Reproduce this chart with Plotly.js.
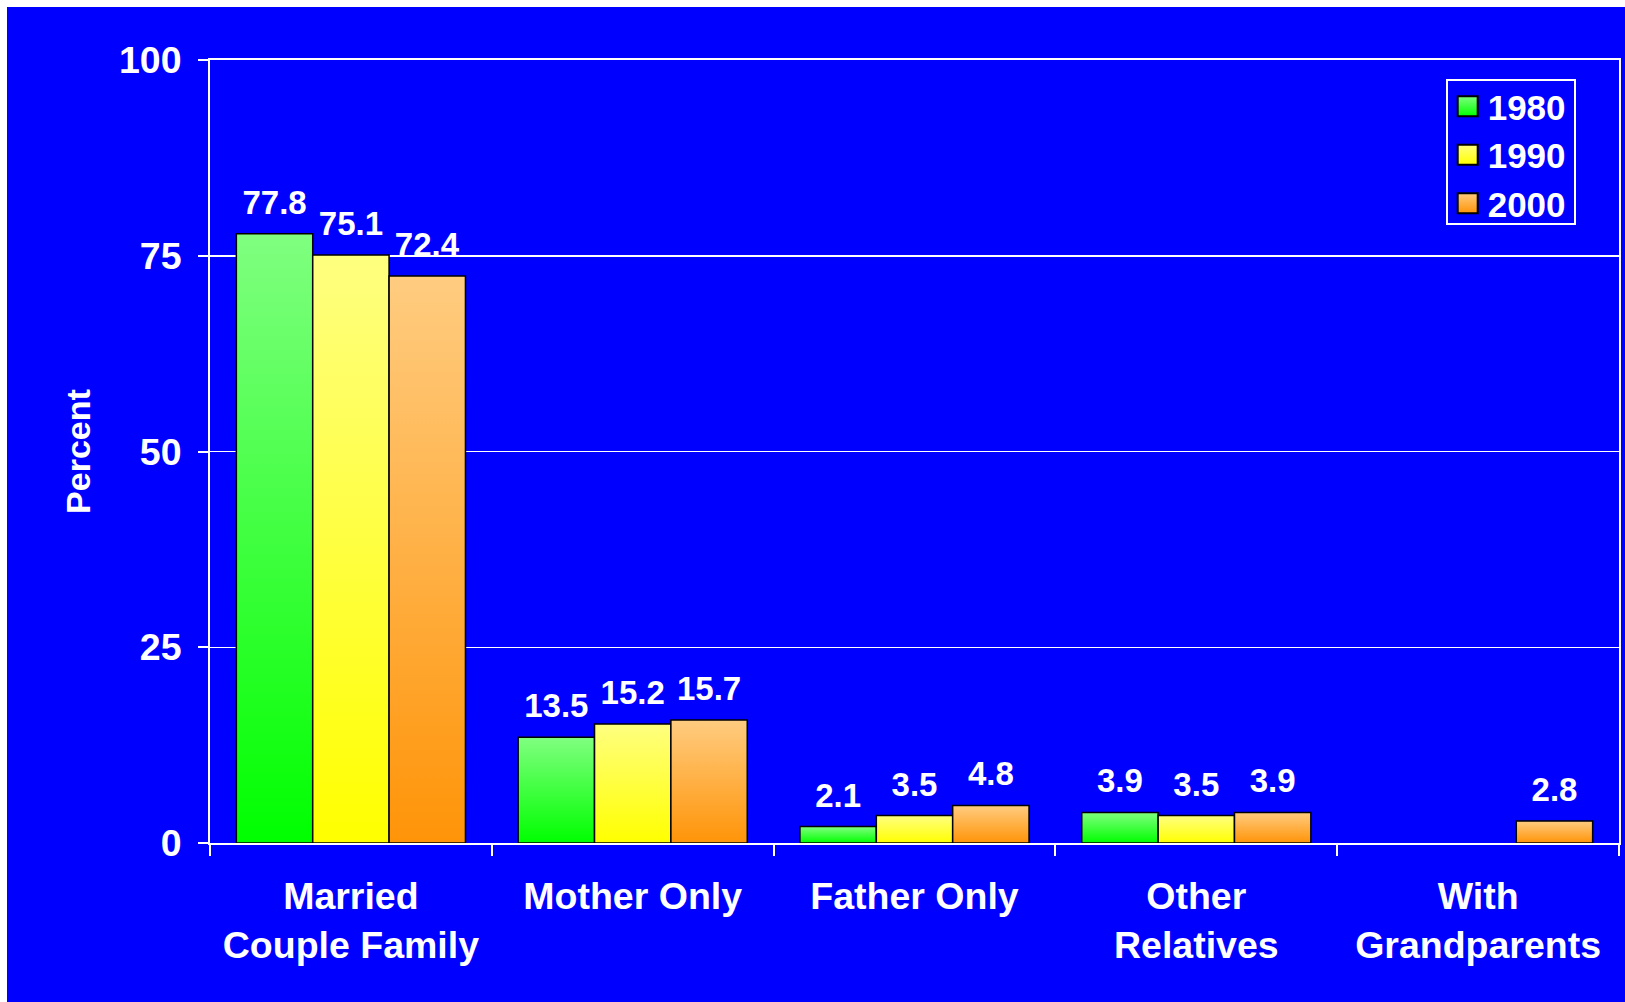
<!DOCTYPE html>
<html><head><meta charset="utf-8">
<script src="https://cdn.plot.ly/plotly-3.0.1.min.js"></script>
<style>
html,body{margin:0;padding:0;background:#ffffff;width:1625px;height:1002px;overflow:hidden;}
#chart{position:absolute;left:7px;top:7px;width:1618px;height:995px;}
</style></head><body><div id="chart"></div>
<script>
const categories = ["Married<br>Couple Family", "Mother Only", "Father Only", "Other<br>Relatives", "With<br>Grandparents"];
const seriesNames = ["1980", "1990", "2000"];
const values1980 = [77.8, 13.5, 2.1, 3.9, null];
const values1990 = [75.1, 15.2, 3.5, 3.5, null];
const values2000 = [72.4, 15.7, 4.8, 3.9, 2.8];
const yTickVals = [0, 25, 50, 75, 100];
const yTickText = ["0", "25", "50", "75", "100"];

const FONT = "Liberation Sans, Arial, Helvetica, sans-serif";
const topColors = ["#80FF80", "#FFFF80", "#FFCC80"];
const bottomColors = ["#00FF00", "#FFFF00", "#FF9408"];
const seriesValues = [values1980, values1990, values2000];

const traces = seriesValues.map((vals, i) => ({
  type: "bar",
  name: seriesNames[i],
  x: categories,
  y: vals,
  text: vals.map(v => v == null ? "" : v.toFixed(1)),
  texttemplate: "%{text}",
  textposition: "outside",
  constraintext: "none",
  cliponaxis: false,
  textfont: {family: FONT, size: 33, color: "#ffffff", weight: "bold"},
  marker: {color: bottomColors[i], line: {color: "#000000", width: 1.5}},
  hoverinfo: "x+y+name"
}));

const layout = {
  width: 1618, height: 995,
  paper_bgcolor: "#0000FF",
  plot_bgcolor: "#0000FF",
  margin: {l: 203, r: 6, t: 53, b: 159},
  barmode: "group",
  bargap: 0.187,
  bargroupgap: 0,
  font: {family: FONT, color: "#ffffff", weight: "bold"},
  showlegend: true,
  legend: {
    x: 0.877, y: 0.981, xanchor: "left", yanchor: "top",
    bgcolor: "#0000FF", bordercolor: "#ffffff", borderwidth: 2,
    font: {family: FONT, size: 35, color: "#ffffff", weight: "bold"},
    traceorder: "normal"
  },
  xaxis: {
    type: "category",
    showline: true, mirror: true, linecolor: "#ffffff", linewidth: 2,
    ticks: "outside", tickson: "boundaries", ticklen: 11, tickwidth: 2, tickcolor: "#ffffff",
    ticklabelstandoff: 19,
    showgrid: false, zeroline: false,
    tickfont: {family: FONT, size: 37.5, color: "#ffffff", weight: "bold"},
    automargin: false
  },
  yaxis: {
    range: [0, 100],
    tickmode: "array", tickvals: yTickVals, ticktext: yTickText,
    showline: true, mirror: true, linecolor: "#ffffff", linewidth: 2,
    ticks: "outside", ticklen: 10, tickwidth: 2, tickcolor: "#ffffff",
    ticklabelstandoff: 9,
    showgrid: true, gridcolor: "#ffffff", gridwidth: 1.5,
    zeroline: false,
    tickfont: {family: FONT, size: 37.5, color: "#ffffff", weight: "bold"},
    title: {text: "Percent", standoff: 18, font: {family: FONT, size: 34, color: "#ffffff", weight: "bold"}},
    automargin: false
  }
};

Plotly.newPlot("chart", traces, layout, {staticPlot: true, displayModeBar: false}).then(gd => {
  const svg = gd.querySelector("svg.main-svg");
  const ns = "http://www.w3.org/2000/svg";
  let defs = svg.querySelector("defs");
  if (!defs) { defs = document.createElementNS(ns, "defs"); svg.insertBefore(defs, svg.firstChild); }
  topColors.forEach((c, i) => {
    const lg = document.createElementNS(ns, "linearGradient");
    lg.setAttribute("id", "barGrad" + i);
    lg.setAttribute("x1", "0"); lg.setAttribute("y1", "0");
    lg.setAttribute("x2", "0"); lg.setAttribute("y2", "1");
    const s1 = document.createElementNS(ns, "stop");
    s1.setAttribute("offset", "0"); s1.setAttribute("stop-color", c);
    const s2 = document.createElementNS(ns, "stop");
    s2.setAttribute("offset", "1"); s2.setAttribute("stop-color", bottomColors[i]);
    lg.appendChild(s1); lg.appendChild(s2);
    defs.appendChild(lg);
  });
  const barTraces = gd.querySelectorAll(".barlayer .trace");
  barTraces.forEach((t, i) => {
    t.querySelectorAll(".point path").forEach(p => { p.style.fill = "url(#barGrad" + i + ")"; });
    t.querySelectorAll(".bartext").forEach(tx => {
      const tr = tx.getAttribute("transform") || "";
      tx.setAttribute("transform", "translate(0,-10) " + tr);
    });
  });
  const legTraces = gd.querySelectorAll(".legend .traces");
  legTraces.forEach((t, i) => {
    t.querySelectorAll(".legendpoints path").forEach(p => {
      p.setAttribute("d", "M10,10H-10V-10H10Z");
      p.style.fill = "url(#barGrad" + i + ")";
      p.style.stroke = "#000000";
      p.style.strokeWidth = "2px";
    });
  });
  // tighten legend frame padding to match the reference box
  const bg = gd.querySelector(".legend rect.bg");
  if (bg) {
    const y0 = parseFloat(bg.getAttribute("y") || "0");
    const h0 = parseFloat(bg.getAttribute("height") || "0");
    const w0 = parseFloat(bg.getAttribute("width") || "0");
    bg.setAttribute("y", y0 + 4);
    bg.setAttribute("height", h0 - 14);
    bg.setAttribute("width", w0 + 3);
  }
});
</script></body></html>
